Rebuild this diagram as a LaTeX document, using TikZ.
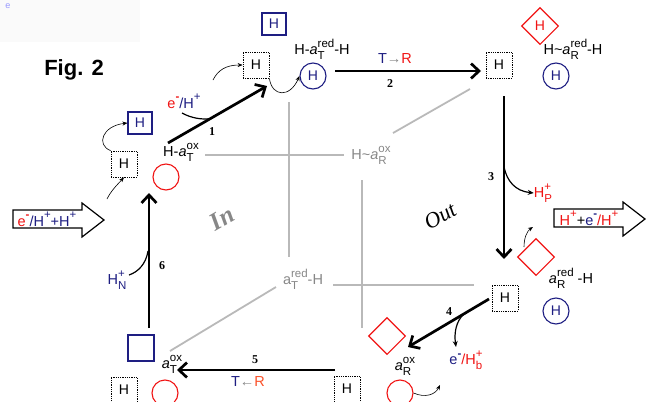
\documentclass[tikz,border=0pt]{standalone}
\usepackage{fontspec}
\setmainfont{Liberation Sans}
\newfontfamily\numfont{Liberation Serif}
\usetikzlibrary{arrows.meta,shapes.geometric}
\definecolor{nblue}{RGB}{30,30,130}
\definecolor{dred}{RGB}{240,20,20}
\definecolor{ored}{RGB}{250,80,40}
\definecolor{lgray}{RGB}{185,185,185}
\definecolor{tgray}{RGB}{135,135,135}
\newcommand\scrfont{\fontsize{11.5}{12}\selectfont}
\newlength\sswd
\newcommand\mysubsup[2]{%
  \setbox0=\hbox{\scrfont #1}\setbox2=\hbox{\scrfont #2}%
  \ifdim\wd0>\wd2 \sswd=\wd0 \else \sswd=\wd2 \fi
  \makebox[\sswd][l]{\rlap{\raisebox{-0.32em}{\box0}}\raisebox{0.52em}{\box2}}}
\newcommand\mysup[1]{\raisebox{0.52em}{\scrfont #1}}
\newcommand\minussup{\raisebox{0.52em}{\scrfont\bfseries -}}
\newcommand\avar[2]{\textit{a}\mysubsup{#1}{#2}}
\tikzset{
  lbl/.style={font=\fontsize{14.5}{16}\selectfont, inner sep=0pt},
  num/.style={font=\numfont\bfseries\fontsize{12}{14}\selectfont, inner sep=0pt},
  hbox/.style={draw, densely dotted, line width=0.8pt, minimum width=26pt, minimum height=26pt, inner sep=0pt, font=\fontsize{14}{16}\selectfont},
  bbox/.style={draw=nblue, line width=1.1pt, minimum width=24pt, minimum height=22pt, inner sep=0pt, text=nblue, font=\fontsize{14}{16}\selectfont},
  rcirc/.style={circle, draw=dred, line width=1.1pt, minimum size=26pt, inner sep=0pt},
  bcirc/.style={circle, draw=nblue, line width=1.1pt, minimum size=26pt, inner sep=0pt, text=nblue, font=\fontsize{14}{16}\selectfont},
  rdiam/.style={diamond, draw=dred, line width=1.1pt, minimum width=37pt, minimum height=37pt, inner sep=0pt, text=dred, font=\fontsize{14}{16}\selectfont},
  mainarr/.style={line width=2.7pt, -{Straight Barb[length=8pt,width=15pt]}},
  branch/.style={line width=1.2pt},
  branchar/.style={line width=1.2pt, -{Stealth[length=6pt,width=5pt]}},
  smallar/.style={line width=0.6pt, -{Stealth[length=5pt,width=4pt]}},
  grayline/.style={draw=lgray, line width=1.8pt},
  hollow/.style={draw, line width=1.2pt, fill=white},
}
\begin{document}
\begin{tikzpicture}[x=1pt,y=-1pt]
\useasboundingbox (0,0) rectangle (646,402);
\fill[gray!4] (0,0) rectangle (140,42);
\node[text=blue!40, font=\fontsize{9}{10}\selectfont, inner sep=0pt] (logo) at (8,6) {e};
\node[font=\bfseries\fontsize{22}{24}\selectfont, inner sep=0pt] (fig) at (74,70) {Fig. 2};

% gray back edges
\coordinate (g1a) at (205,155); \coordinate (g1b) at (344,155);
\coordinate (g2a) at (289,102); \coordinate (g2b) at (289,257);
\coordinate (g3a) at (362,180); \coordinate (g3b) at (362,328);
\coordinate (g4a) at (333,285); \coordinate (g4b) at (474,285);
\coordinate (g5a) at (170,351); \coordinate (g5b) at (276,287);
\coordinate (g6a) at (393,133); \coordinate (g6b) at (470,89);
\draw[grayline] (g1a) -- (g1b);
\draw[grayline] (g2a) -- (g2b);
\draw[grayline] (g3a) -- (g3b);
\draw[grayline] (g4a) -- (g4b);
\draw[grayline] (g5a) -- (g5b);
\draw[grayline] (g6a) -- (g6b);
\node[lbl, text=tgray] (gl1) at (371,155) {H\textasciitilde\avar{R}{ox}};
\node[lbl, text=tgray] (gl2) at (303,279) {a\mysubsup{T}{red}-H};

\node[font=\numfont\itshape\bfseries\fontsize{25}{26}\selectfont, text=tgray, rotate=30, inner sep=0pt] (in) at (222,218) {In};
\node[font=\numfont\itshape\fontsize{22}{24}\selectfont, rotate=30, inner sep=0pt] (out) at (440,216) {Out};

% top-left vertex
\node[hbox] (d1) at (124,164) {H};
\node[bbox] (b1) at (140,123) {H};
\node[rcirc] (r1) at (166,177) {};
\node[lbl] (l1) at (181,152) {H-\avar{T}{ox}};
\coordinate (c1s) at (107,199);
\draw[smallar] (c1s) .. controls (111,191) and (116,186) .. (d1.south);
\draw[smallar] (d1.north west) .. controls (96,145) and (102,126) .. (b1.west);

% top vertex
\node[hbox] (d2) at (256,65) {H};
\node[bbox] (b2) at (274,24) {H};
\node[bcirc] (bc2) at (313,76) {H};
\node[lbl] (l2) at (322,49) {H-\avar{T}{red}-H};
\coordinate (c3s) at (213,80);
\draw[smallar] (c3s) .. controls (218,70) and (226,65) .. (d2.west);
\draw[smallar] (d2.south east) .. controls (272,97) and (290,98) .. (bc2.west);

% arrow 1
\coordinate (a1s) at (168,143); \coordinate (a1e) at (267,86);
\draw[mainarr] (a1s) -- (a1e);
\node[num] (n1) at (212,132) {1};
\node[lbl] (e1) at (184,101) {\textcolor{dred}{e\minussup}\textcolor{nblue}{/H\mysup{+}}};
\coordinate (b1s) at (182,113); \coordinate (b1e) at (211,118.5);
\draw[branch] (b1s) .. controls (191,118) and (202,120) .. (b1e);

% arrow 2
\coordinate (a2s) at (335,71); \coordinate (a2e) at (481,71);
\draw[mainarr] (a2s) -- (a2e);
\node[lbl] (tr1) at (395,59) {\textcolor{nblue}{T}\textcolor{tgray}{→}\textcolor{dred}{R}};
\node[num] (n2) at (390,84) {2};

% top-right vertex
\node[hbox] (d3) at (499,65) {H};
\node[rdiam] (rd1) at (540,26) {H};
\node[lbl] (l3) at (573,49) {H\textasciitilde\avar{R}{red}-H};
\node[bcirc] (bc3) at (556,76) {H};

% arrow 3
\coordinate (a3s) at (504,96); \coordinate (a3e) at (504,259);
\draw[mainarr] (a3s) -- (a3e);
\node[num] (n3) at (491,177) {3};
\node[lbl, text=dred] (hp) at (543,193) {H\mysubsup{P}{+}};
\coordinate (b3s) at (504,167);
\draw[branchar] (b3s) .. controls (507,181) and (515,191) .. (hp.west);

% right hollow arrow
\draw[hollow] (554,209) -- (623,209) -- (623,202) -- (645,219) -- (623,236) -- (623,227) -- (554,227) -- cycle;
\node[lbl] (outlbl) at (589,218) {\textcolor{dred}{H\mysup{+}}+\textcolor{nblue}{e\minussup}\textcolor{dred}{/H\mysup{+}}};

% right lower vertex
\node[rdiam] (rd2) at (536,257) {};
\coordinate (c5s) at (524,247); \coordinate (c5e) at (533,227);
\draw[smallar] (c5s) .. controls (524,238) and (527,231) .. (c5e);
\node[lbl] (l4) at (571,278) {\avar{R}{red} -H};
\node[hbox] (d4) at (505,298) {H};
\node[bcirc] (bc4) at (556,311) {H};

% arrow 4
\coordinate (a4s) at (489,299); \coordinate (a4e) at (408,347);
\draw[mainarr] (a4s) -- (a4e);
\node[num] (n4) at (449,312) {4};
\coordinate (b4s) at (464,314);
\node[lbl] (eb) at (466,360) {\textcolor{nblue}{e\minussup}\textcolor{dred}{/H\mysubsup{b}{+}}};
\coordinate (b4e) at (456,347);
\draw[branchar] (b4s) .. controls (456,321) and (454,333) .. (b4e);

% bottom-right vertex
\node[rdiam] (rd3) at (387,336) {};
\node[lbl] (l5) at (405,366) {\avar{R}{ox}};
\node[rcirc] (r3) at (400,393) {};
\node[hbox] (d5) at (347,389) {H};
\coordinate (c6e) at (440,385);
\draw[smallar] (r3.east) .. controls (425,398) and (435,395) .. (c6e);

% arrow 5
\coordinate (a5s) at (335,370); \coordinate (a5e) at (177,370);
\draw[mainarr] (a5s) -- (a5e);
\node[num] (n5) at (255,360) {5};
\node[lbl] (tr2) at (248,382) {\textcolor{nblue}{T}\textcolor{tgray}{←}\textcolor{ored}{R}};

% bottom-left vertex
\node[bbox, minimum width=26pt, minimum height=26pt] (b3) at (141,348) {};
\node[lbl] (l6) at (172,364) {\avar{T}{ox}};
\node[hbox] (d6) at (124,390) {H};
\node[rcirc] (r4) at (165,393) {};

% arrow 6
\coordinate (a6s) at (149,328); \coordinate (a6e) at (149,193);
\draw[mainarr] (a6s) -- (a6e);
\node[num] (n6) at (162,266) {6};
\node[lbl, text=nblue] (hn) at (117,280) {H\mysubsup{N}{+}};
\coordinate (b6s) at (148,251); \coordinate (b6e) at (129,275);
\draw[branch] (b6s) .. controls (146,264) and (138,272) .. (b6e);

% left hollow arrow
\draw[hollow] (13,210) -- (82,210) -- (82,203) -- (104,220) -- (82,237) -- (82,228) -- (13,228) -- cycle;
\node[lbl] (inlbl) at (47,219) {\textcolor{dred}{e\minussup}\textcolor{nblue}{/H\mysup{+}+H\mysup{+}}};
\end{tikzpicture}
\end{document}
